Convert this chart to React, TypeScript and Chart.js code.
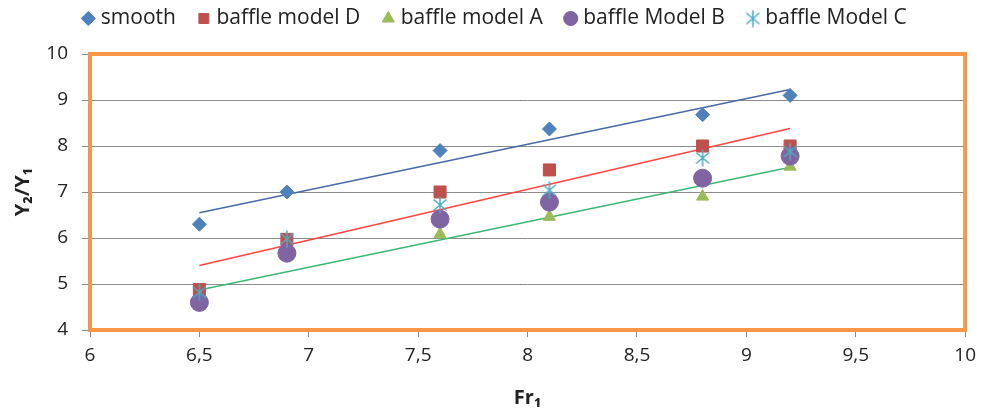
import React, { useEffect, useRef } from 'react';
import { Chart, registerables } from 'chart.js';

Chart.register(...registerables);

// ---- data ----
const frValues = [6.5, 6.9, 7.6, 8.1, 8.8, 9.2];
const smooth = [6.3, 7.0, 7.9, 8.37, 8.68, 9.1];
const modelD = [4.88, 5.97, 7.0, 7.48, 8.0, 8.0];
const modelA = [4.52, 5.6, 6.08, 6.46, 6.9, 7.55];
const modelB = [4.6, 5.67, 6.41, 6.78, 7.3, 7.78];
const modelC = [4.82, 5.98, 6.72, 7.04, 7.74, 7.88];

const trendX = [6.5, 9.2];
const smoothTrend = [6.55, 9.23];
const modelDTrend = [5.4, 8.38];
const modelATrend = [4.87, 7.54];

const seriesLabels = ['smooth', 'baffle model D', 'baffle model A', 'baffle Model B', 'baffle Model C'];
const xAxisTitle = 'Fr₁';
const yAxisTitle = 'Y₂/Y₁';

const FONT = "'Open Sans', 'DejaVu Sans', sans-serif";

function pts(xs: number[], ys: number[]) {
  return xs.map((x, i) => ({ x, y: ys[i] }));
}

function makeStar(color: string): HTMLCanvasElement {
  const c = document.createElement('canvas');
  c.width = 18;
  c.height = 18;
  const g = c.getContext('2d')!;
  g.strokeStyle = color;
  g.lineWidth = 1.5;
  g.beginPath();
  g.moveTo(9, 0.5);
  g.lineTo(9, 17.5);
  g.moveTo(2.5, 3.5);
  g.lineTo(15.5, 14.5);
  g.moveTo(15.5, 3.5);
  g.lineTo(2.5, 14.5);
  g.stroke();
  return c;
}

export default function App() {
  const ref = useRef<HTMLCanvasElement | null>(null);

  useEffect(() => {
    if (!ref.current) return;
    const star = makeStar('#4BACC6');

    const layoutPlugin = {
      id: 'layoutTweaks',
      beforeLayout(chart: any) {
        const lg = chart.legend;
        if (lg && !lg.__patched) {
          const orig = lg.fit;
          lg.fit = function () {
            orig.call(this);
            this.height = 54;
          };
          lg.__patched = true;
        }
      },
      afterLayout(chart: any) {
        const lg = chart.legend;
        if (lg) {
          lg.top = -18;
          lg.left += 13;
          lg.right += 13;
        }
      },
      afterDraw(chart: any) {
        const { ctx, chartArea } = chart;
        ctx.save();
        ctx.strokeStyle = '#F79646';
        ctx.lineWidth = 4;
        ctx.strokeRect(chartArea.left, chartArea.top, chartArea.right - chartArea.left, chartArea.bottom - chartArea.top);
        ctx.restore();
      },
    };

    const chart = new Chart(ref.current, {
      type: 'scatter',
      data: {
        datasets: [
          {
            label: seriesLabels[0],
            data: pts(frValues, smooth),
            pointStyle: 'rectRot',
            pointRadius: 7,
            backgroundColor: '#4F81BD',
            borderColor: '#4F81BD',
            borderWidth: 1,
            order: 4,
          },
          {
            label: seriesLabels[1],
            data: pts(frValues, modelD),
            pointStyle: 'rect',
            pointRadius: 8.5,
            backgroundColor: '#C0504D',
            borderColor: '#C0504D',
            borderWidth: 1,
            order: 3,
          },
          {
            label: seriesLabels[2],
            data: pts(frValues, modelA),
            pointStyle: 'triangle',
            pointRadius: 7,
            backgroundColor: '#9BBB59',
            borderColor: '#9BBB59',
            borderWidth: 1,
            order: 2,
          },
          {
            label: seriesLabels[3],
            data: pts(frValues, modelB),
            pointStyle: 'circle',
            pointRadius: 9,
            backgroundColor: '#8064A2',
            borderColor: '#8064A2',
            borderWidth: 1,
            order: 1,
          },
          {
            label: seriesLabels[4],
            data: pts(frValues, modelC),
            pointStyle: star as any,
            pointRadius: 8,
            backgroundColor: '#4BACC6',
            borderColor: '#4BACC6',
            borderWidth: 1,
            order: 0,
          },
          {
            label: 'trend smooth',
            data: pts(trendX, smoothTrend),
            showLine: true,
            pointRadius: 0,
            borderColor: '#4A6BA6',
            borderWidth: 1.5,
            order: 5,
          },
          {
            label: 'trend D',
            data: pts(trendX, modelDTrend),
            showLine: true,
            pointRadius: 0,
            borderColor: '#FF4444',
            borderWidth: 1.5,
            order: 6,
          },
          {
            label: 'trend A',
            data: pts(trendX, modelATrend),
            showLine: true,
            pointRadius: 0,
            borderColor: '#3DB874',
            borderWidth: 1.5,
            order: 7,
          },
        ],
      },
      options: {
        animation: false,
        responsive: false,
        events: [],
        layout: { padding: { left: 0, right: 16, top: 0, bottom: 0 } },
        plugins: {
          tooltip: { enabled: false },
          legend: {
            position: 'top',
            labels: {
              usePointStyle: true,
              boxWidth: 4,
              boxHeight: 10,
              padding: 26,
              color: '#222',
              font: { family: FONT, size: 21 },
              filter: (item: any) => item.datasetIndex < 5,
              sort: (a: any, b: any) => a.datasetIndex - b.datasetIndex,
            },
          },
        },
        scales: {
          x: {
            type: 'linear',
            min: 6,
            max: 10,
            afterFit: (s: any) => {
              s.height = 82;
            },
            ticks: {
              stepSize: 0.5,
              padding: 7,
              color: '#222',
              font: { family: FONT, size: 19 },
              callback: (v: any) => String(v).replace('.', ','),
            },
            grid: {
              display: true,
              drawOnChartArea: false,
              drawTicks: true,
              tickLength: 7,
              color: '#8C8C8C',
            },
            border: { display: false },
            title: {
              display: true,
              text: xAxisTitle,
              color: '#222',
              font: { family: FONT, size: 20, weight: 'bold' },
              padding: { top: 0, bottom: 2 },
            },
          },
          y: {
            type: 'linear',
            min: 4,
            max: 10,
            afterFit: (s: any) => {
              s.width = 90;
            },
            ticks: {
              stepSize: 1,
              padding: 14,
              color: '#222',
              font: { family: FONT, size: 19 },
            },
            grid: {
              color: '#8C8C8C',
              lineWidth: 1,
              tickLength: 8,
            },
            border: { display: false },
            title: {
              display: true,
              text: yAxisTitle,
              color: '#222',
              font: { family: FONT, size: 20, weight: 'bold' },
              padding: { top: 11, bottom: 0 },
            },
          },
        },
      },
      plugins: [layoutPlugin],
    } as any);

    return () => chart.destroy();
  }, []);

  return (
    <div style={{ position: 'absolute', left: 0, top: 0, width: 983, height: 412, background: '#fff' }}>
      <canvas ref={ref} width={983} height={412} style={{ display: 'block', width: 983, height: 412 }} />
    </div>
  );
}
